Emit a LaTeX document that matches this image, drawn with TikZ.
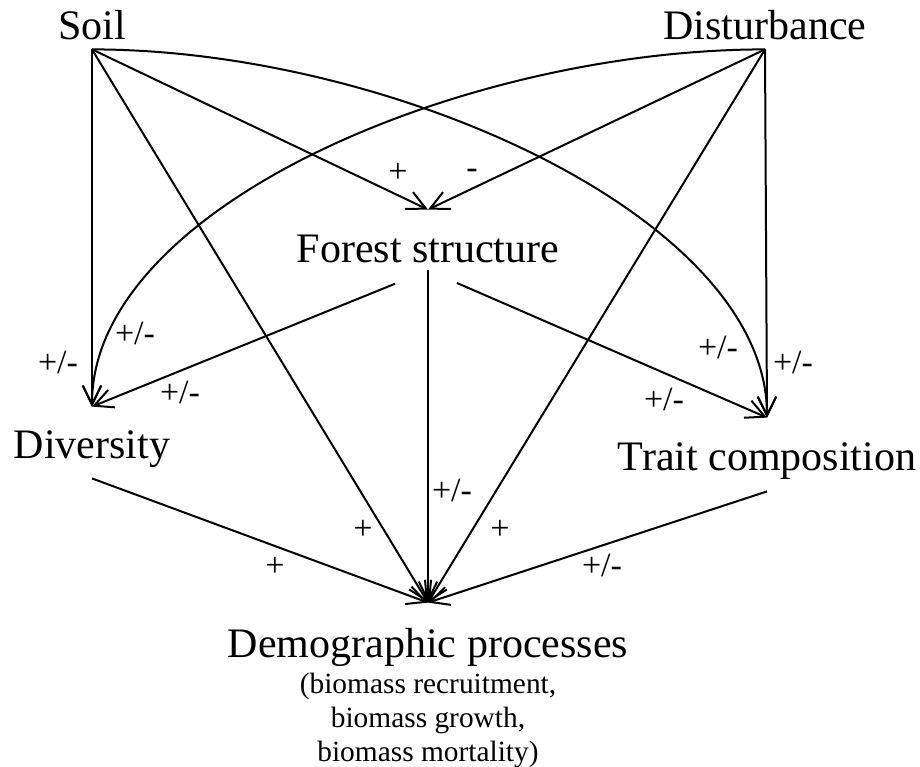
\documentclass[tikz,border=0pt]{standalone}
\usepackage{fontspec}
\setmainfont{Liberation Serif}
\usetikzlibrary{arrows.meta}

\tikzset{
  var/.style={inner sep=0pt, anchor=base, font=\fontsize{21}{25}\selectfont},
  sub/.style={inner sep=0pt, align=center, font=\fontsize{14.7}{17}\selectfont},
  lbl/.style={inner sep=0pt, font=\fontsize{17}{20}\selectfont},
  eff/.style={line width=1pt, -{Straight Barb[length=9.4pt,width=9.3pt]}},
}

\begin{document}
\begin{tikzpicture}[x=0.5pt,y=-0.5pt]
  \useasboundingbox (0,0) rectangle (920,766);

  % 'Soil' and 'Disturbance'
  \node[var, text depth=5pt] at (92,39) (soil) {Soil};
  \node[var, text depth=5pt] at (765,39) (dist) {Disturbance};

  % 'Forest structure'
  \node[var, text height=26pt, text depth=4pt] at (428,262) (fs) {Forest structure};

  % 'Diversity' and 'Trait composition'
  \node[var, text height=25.5pt, text depth=10pt] at (92,458) (div) {Diversity};
  \node[var, text height=26pt, text depth=10.5pt] at (767,470) (trait) {Trait composition};

  % 'Demographic processes'
  \node[var, text height=27pt] at (428,657) (demo) {Demographic processes};
  \node[sub, anchor=north] at (428,673) (demosub)
    {(biomass recruitment,\\ biomass growth,\\ biomass mortality)};

  % into 'Forest structure'
  \draw[eff] (soil.south) -- (fs.north);
  \draw[eff] (dist.south) -- (fs.north);
  \node[lbl] at (398,173) (lsf) {+};
  \node[lbl] at (472,174) (ldf) {-};

  % into 'Diversity'
  \draw[eff] (soil.south) -- (div.north);
  \draw[eff] (dist.south) .. controls +(-300,0) and +(0,-200) .. (div.north);
  \draw[eff, shorten <=17.8pt] (fs.south) -- (div.north);
  \node[lbl] at (58,362) (lsd) {+/-};
  \node[lbl] at (135,333) (ldd) {+/-};
  \node[lbl] at (180,392) (lfd) {+/-};

  % into 'Trait composition'
  \draw[eff] (dist.south) -- (trait.north);
  \draw[eff] (soil.south) .. controls +(300,0) and +(0,-200) .. (trait.north);
  \draw[eff, shorten <=15.8pt] (fs.south) -- (trait.north);
  \node[lbl] at (793,362) (ldt) {+/-};
  \node[lbl] at (718,347) (lst) {+/-};
  \node[lbl] at (664,399) (lft) {+/-};

  % into 'Demographic processes'
  \draw[eff] (fs.south) -- (demo.north);
  \draw[eff] (soil.south) -- (demo.north);
  \draw[eff] (dist.south) -- (demo.north);
  \draw[eff] (div.south) -- (demo.north);
  \draw[eff] (trait.south) -- (demo.north);
  \node[lbl] at (452,490) (lfp) {+/-};
  \node[lbl] at (363,530) (lsp) {+};
  \node[lbl] at (500,530) (ldp) {+};
  \node[lbl] at (275,567) (lvp) {+};
  \node[lbl] at (602,565) (ltp) {+/-};
\end{tikzpicture}
\end{document}
